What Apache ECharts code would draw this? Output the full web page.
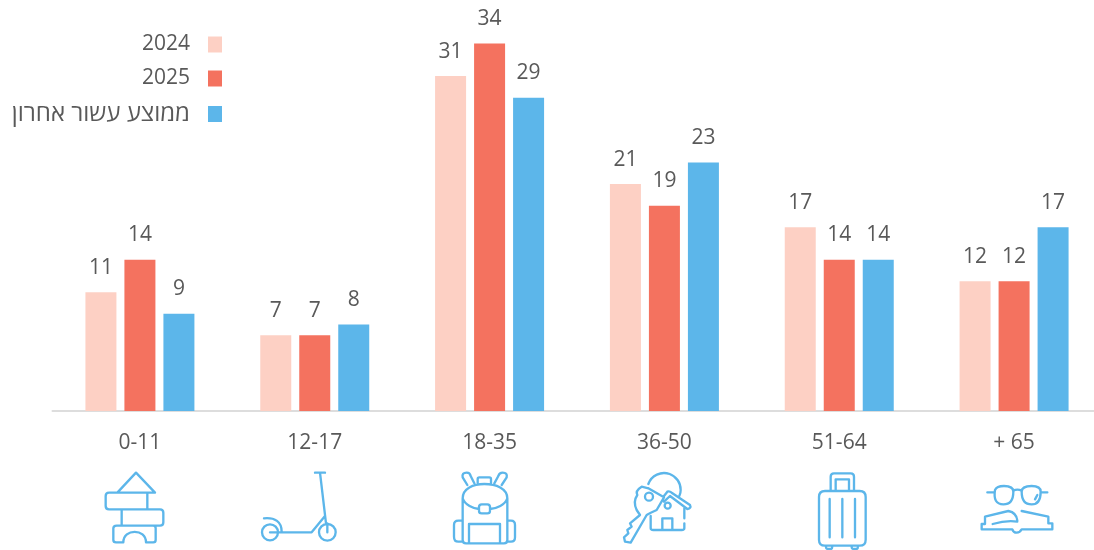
<!DOCTYPE html>
<html><head><meta charset="utf-8">
<style>html,body{margin:0;padding:0;background:#fff}#c{width:1094px;height:550px}</style>
<script src="https://cdn.jsdelivr.net/npm/echarts@6/dist/echarts.min.js"></script>
</head><body><div id="c"></div>
<script>
const categories = ['0-11','12-17','18-35','36-50','51-64','+ 65'];
const y2024 = [11,7,31,21,17,12];
const y2025 = [14,7,34,19,14,12];
const decadeAvg = [9,8,29,23,14,17];
const seriesNames = ['2024','2025','ממוצע עשור אחרון'];
const colors = ['#fdd0c4','#f4725f','#5cb6ea'];
const FONT = '"Open Sans", Roboto, "Liberation Sans", sans-serif';
const TXT = '#595959';
const ICON = '#5cb6ea';

// decorative line icons, drawn in 3x units relative to an origin
const icon1 = 'M82 98L138 38L195 98ZM57 98H172V148H57Q47 148 47 138V108Q47 98 57 98ZM172 148H210Q220 148 220 158V187Q220 197 210 197H95V148ZM95 148V197M80 197H190Q197 197 197 205V240Q197 247 190 247H168C168 205 100 205 100 247H78Q70 247 70 240V205Q70 197 80 197Z';
const icon2 = 'M675 38H705M690 38L708 190M712 190V217M540 217H665L705 168M522 175C555 172 575 185 575 215M540 193A24 24 0 1 0 540 241A24 24 0 1 0 540 193ZM712 192A25 25 0 1 0 712 242A25 25 0 1 0 712 192Z';
const icon3 = 'M68 115C68 85 100 72 133 72C168 72 202 85 202 115V240Q202 250 192 250H78Q68 250 68 240ZM68 115C75 135 100 146 117 147M150 147C170 146 195 135 202 115M125 133H142Q150 133 150 141V152Q150 160 142 160H125Q117 160 117 152V141Q117 133 125 133ZM87 250V192H180V250M68 182H55Q42 182 42 195V230Q42 245 55 245H68M202 182H213Q225 182 225 195V232Q225 245 213 245H202M82 75L68 52Q65 38 80 38Q90 38 92 48L103 70M185 75L200 52Q203 38 188 38Q178 38 175 48L163 70M113 68V57Q113 52 118 52H148Q153 52 153 57V68';
const icon4 = 'M625 72A50 50 0 0 1 722 90Q722 100 718 108M625 85L605 80Q585 92 592 105Q578 125 590 150L600 165L570 190L575 200L562 210L565 220L552 232L555 245L572 248L620 165Q632 158 650 150L672 112L625 85M615 110A12 12 0 1 0 639 110A12 12 0 1 0 615 110ZM672 108L682 95Q688 92 695 98L750 135Q755 145 742 147L690 108L672 125M632 168V205Q632 210 640 210H725Q733 210 733 205V190M733 175V145M667 210V175H697V210M674 137A9 9 0 1 0 692 137A9 9 0 1 0 674 137Z';
const icon5 = 'M75 93H179Q197 93 197 111V239Q197 257 179 257H75Q57 257 57 239V111Q57 93 75 93ZM92 93V50Q92 40 102 40H152Q162 40 162 50V93M107 93V58H147V93M89 117V232M127 117V232M165 117V232M78 257V262Q78 267 85 267H92Q97 267 97 258M155 257V262Q155 267 162 267H169Q174 267 174 258';
const icon6 = 'M562 97H582M722 97H742M585 90Q590 78 612 78Q640 78 640 95Q640 133 610 133Q578 133 585 90ZM665 95Q665 78 695 78Q722 78 722 95Q722 133 695 133Q665 133 665 95ZM640 92Q652 86 665 92M705 118L712 105M545 208V192H555V170L625 153Q650 158 652 182M665 153L745 170V190H757V208H665Q660 218 650 218Q640 218 637 208H545M578 192Q620 180 652 185';

const iconEl = (d, idx, x, y) => {
  const t = 'ageIcon' + idx;
  echarts.graphic.registerShape(t, echarts.graphic.extendPath(d, {}));
  return {
    type:'group', x:x, y:y, scaleX:1/3, scaleY:1/3, silent:true,
    children:[{type:t,
      style:{fill:'none', stroke:ICON, lineWidth:7, lineJoin:'round', lineCap:'round'}}]
  };
};

const mk = (name, data, i) => ({
  name, type:'bar', data, barWidth:31, barGap:'25.8%',
  itemStyle:{color:colors[i]},
  label:{show:true, position:'top', distance:14, color:TXT, fontSize:21, fontFamily:FONT},
  silent:true
});

const chart = echarts.init(document.getElementById('c'), null, {renderer:'canvas'});
chart.setOption({
  animation:false,
  backgroundColor:'#fff',
  grid:{left:52.5, top:22, width:1049, height:389, outerBoundsMode:'none'},
  legend:{
    data:seriesNames, orient:'vertical', align:'right', right:867, top:29,
    itemWidth:14, itemHeight:16, itemGap:13, icon:'rect', selectedMode:false,
    formatter:(n) => n === seriesNames[2] ? '{he|' + n + '}' : n,
    textStyle:{color:TXT, fontSize:21, fontFamily:FONT, padding:[0,13,0,0],
      rich:{he:{fontSize:24, fontFamily:FONT, color:TXT}}}
  },
  xAxis:{
    type:'category', data:categories,
    axisLine:{show:true, lineStyle:{color:'#dddddd', width:2}},
    axisTick:{show:false},
    axisLabel:{color:TXT, fontSize:21, fontFamily:FONT, margin:22}
  },
  yAxis:{type:'value', min:0, max:36, show:false, splitLine:{show:false}},
  series:[mk(seriesNames[0],y2024,0), mk(seriesNames[1],y2025,1), mk(seriesNames[2],decadeAvg,2)],
  graphic:[
    iconEl(icon1,1,90,460), iconEl(icon2,2,90,460),
    iconEl(icon3,3,440,460), iconEl(icon4,4,440,460),
    iconEl(icon5,5,800,460), iconEl(icon6,6,800,460)
  ]
});
</script></body></html>
